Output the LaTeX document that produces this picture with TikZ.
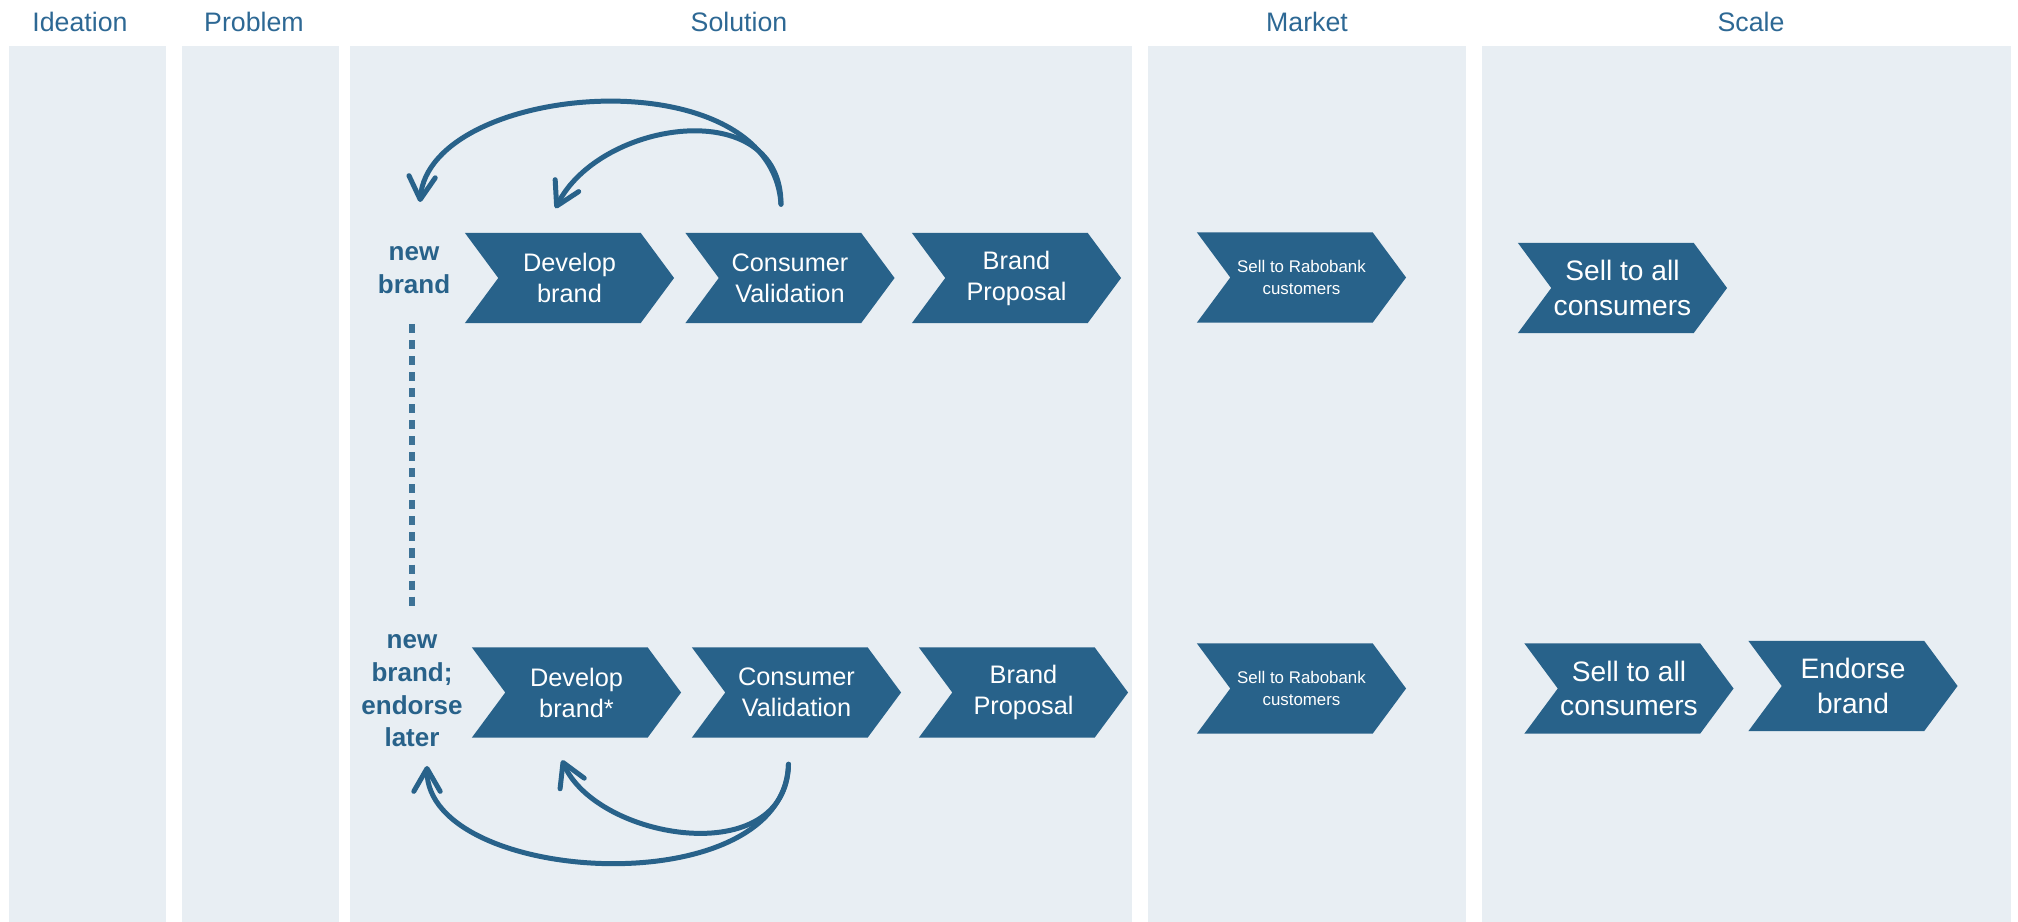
\documentclass[tikz,border=0pt]{standalone}
\usepackage{fontspec}
\setmainfont{Liberation Sans}
\usetikzlibrary{shapes.symbols,arrows.meta,calc}
\definecolor{chevblue}{HTML}{28628A}
\definecolor{titleblue}{HTML}{2D6894}
\definecolor{panelgrey}{HTML}{E8EEF3}
\tikzset{
  chev/.style={shape=signal, signal from=west, signal to=east, signal pointer angle=107,
    fill=chevblue, text=white, inner sep=0pt, minimum width=2.09cm, minimum height=0.9cm,
    align=center, font=\fontsize{7.2}{8.8}\selectfont},
  chevsmall/.style={chev, font=\fontsize{4.8}{6}\selectfont},
  chevbig/.style={chev, font=\fontsize{8}{9.7}\selectfont},
  phase/.style={text=titleblue, font=\fontsize{7.6}{9}\selectfont},
  variant/.style={text=chevblue, align=center, inner sep=0pt, font=\bfseries\fontsize{7.4}{9.3}\selectfont},
  backarrow/.style={draw=chevblue, line width=1.42pt, line cap=round, line join=round,
    -{Straight Barb[length=6.5pt,width=7.5pt,round]}},
  dotline/.style={draw=chevblue!90, line width=1.7pt, dash pattern=on 2.56pt off 2pt}
}

\begin{document}
\begin{tikzpicture}[x=0.01cm,y=-0.01cm]
\useasboundingbox (0,0) rectangle (2018,922);
\fill[panelgrey] (9,46)    rectangle (166,922);
\fill[panelgrey] (182,46)  rectangle (339,922);
\fill[panelgrey] (350,46)  rectangle (1132,922);
\fill[panelgrey] (1148,46) rectangle (1466,922);
\fill[panelgrey] (1482,46) rectangle (2011,922);

\node[phase] (ideation) at (80,22)   {Ideation};
\node[phase] (problem)  at (254,22)  {Problem};
\node[phase] (solution) at (739,22)  {Solution};
\node[phase] (market)   at (1307,22) {Market};
\node[phase] (scale)    at (1751,22) {Scale};

\node[variant]   (newA)       at (414,270)      {new\\brand};
\node[chev]      (developA)   at (569.5,278)    {Develop\\brand};
\node[chev]      (consumerA)  at (790,278)      {Consumer\\Validation};
\node[chev]      (proposalA)  at (1016.5,278)   {Brand\\Proposal};
\node[chevsmall] (rabobankA)  at (1301.5,277.5) {Sell to Rabobank\\customers};
\node[chevbig]   (allA)       at (1622.5,288)   {Sell to all\\consumers};

\node[variant]   (newB)       at (412,691)      {new\\brand;\\endorse\\later};
\node[chev]      (developB)   at (576.5,692.5)  {Develop\\brand*};
\node[chev]      (consumerB)  at (796.5,692.5)  {Consumer\\Validation};
\node[chev]      (proposalB)  at (1023.5,692.5) {Brand\\Proposal};
\node[chevsmall] (rabobankB)  at (1301.5,688.5) {Sell to Rabobank\\customers};
\node[chevbig]   (allB)       at (1629,688.5)   {Sell to all\\consumers};
\node[chevbig]   (endorseB)   at (1853,686)     {Endorse\\brand};

\draw[dotline] ($(newA)+(-2,54)$) -- ($(newB)+(0,-84)$);
\draw[backarrow] ($(consumerA.north)+(-9,-28)$) .. controls +(-10,-150) and +(10,-120) .. ($(newA)+(6,-68)$);
\draw[backarrow] ($(consumerA.north)+(-9,-28)$) .. controls +(0,-110) and +(45,-89) .. ($(developA.north)+(-14,-24)$);
\draw[backarrow] ($(consumerB.south)+(-8,26)$) .. controls +(-5,142) and +(0,119) .. ($(newB)+(15,75)$);
\draw[backarrow] ($(consumerB.south)+(-8,26)$) .. controls +(-2,107) and +(35,80) .. ($(developB.south)+(-14.5,22)$);
\end{tikzpicture}
\end{document}
